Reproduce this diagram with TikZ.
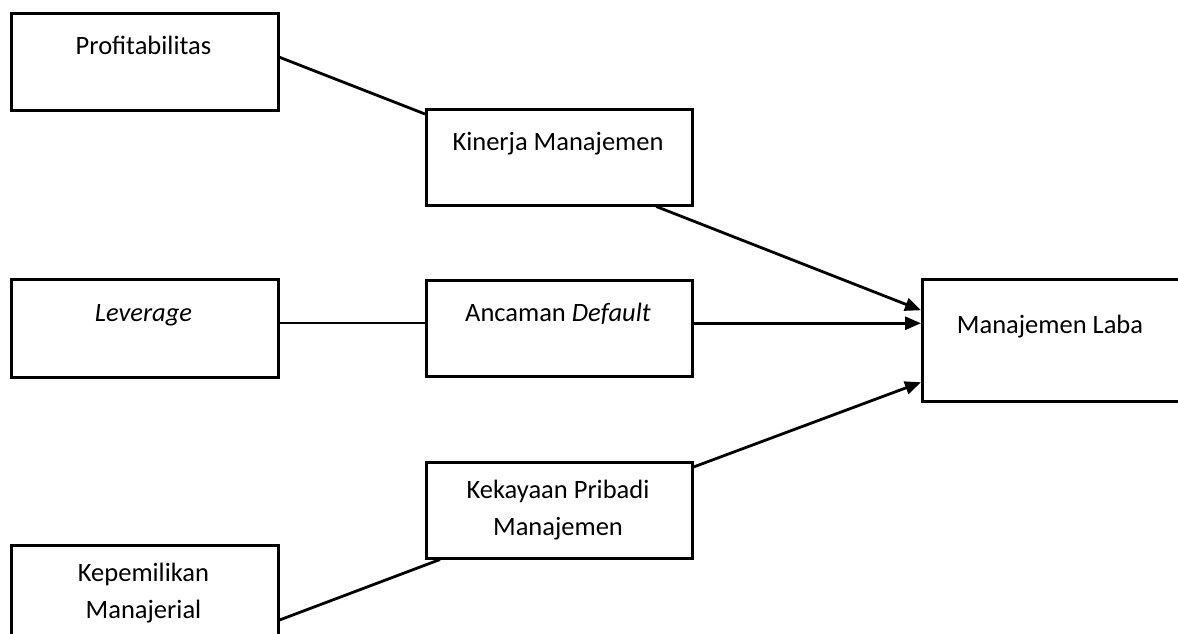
\documentclass[tikz,border=0pt]{standalone}
\usepackage{fontspec}
\setmainfont{Carlito}
\usetikzlibrary{arrows.meta}
\begin{document}
\begin{tikzpicture}[x=1pt,y=-1pt,
  box/.style={draw, line width=2.5pt, anchor=north west, inner sep=0pt},
  lbl/.style={font=\fontsize{26.5}{37}\selectfont, anchor=base, align=center, inner sep=0pt},
  conn/.style={line width=2.8pt},
  arr/.style={conn, -{Triangle[length=16pt,width=13pt]}}]
\useasboundingbox (0,0) rectangle (1178,633);
\fill[white] (0,0) rectangle (1178,633);
% boxes
\node[box, minimum width=267pt, minimum height=97pt] (prof) at (10,12) {};
\node[box, minimum width=266pt, minimum height=96pt] (kin) at (425,108) {};
\node[box, minimum width=267pt, minimum height=98pt] (lev) at (10,278) {};
\node[box, minimum width=266pt, minimum height=96pt] (anc) at (425,279) {};
\node[box, minimum width=264pt, minimum height=122pt] (ml) at (921,278) {};
\node[box, minimum width=266pt, minimum height=96pt] (kek) at (425,461) {};
\node[box, minimum width=267pt, minimum height=120pt] (kep) at (10,544) {};
% texts
\node[lbl] (tprof) at (143.5,54) {Profitabilitas};
\node[lbl] (tkin) at (558,150.5) {Kinerja Manajemen};
\node[lbl] (tlev) at (143.5,321.5) {\textit{Leverage}};
\node[lbl] (tanc) at (558,321.5) {Ancaman \textit{Default}};
\node[lbl] (tml) at (1050,333.5) {Manajemen Laba};
\node[lbl] (tkek) at (558,535) {Kekayaan Pribadi\\Manajemen};
\node[lbl] (tkep) at (143.5,618) {Kepemilikan\\Manajerial};
% connectors
\draw[conn] ([yshift=4.5pt]prof.east) -- ([yshift=-6pt]kin.north west);
\draw[arr] ([xshift=97pt]kin.south) -- ([yshift=30pt]ml.west);
\draw[conn, line width=2.3pt] ([yshift=5pt]lev.east) -- ([yshift=5pt]lev.east -| anc.west);
\draw[arr] ([yshift=5pt]anc.east) -- ([yshift=5pt]anc.east -| ml.west);
\draw[arr] ([yshift=-6pt]kek.north east) -- ([yshift=-42pt]ml.west);
\draw[conn] ([yshift=-76pt]kep.north east) -- ([xshift=15pt]kek.south west);
\end{tikzpicture}
\end{document}
